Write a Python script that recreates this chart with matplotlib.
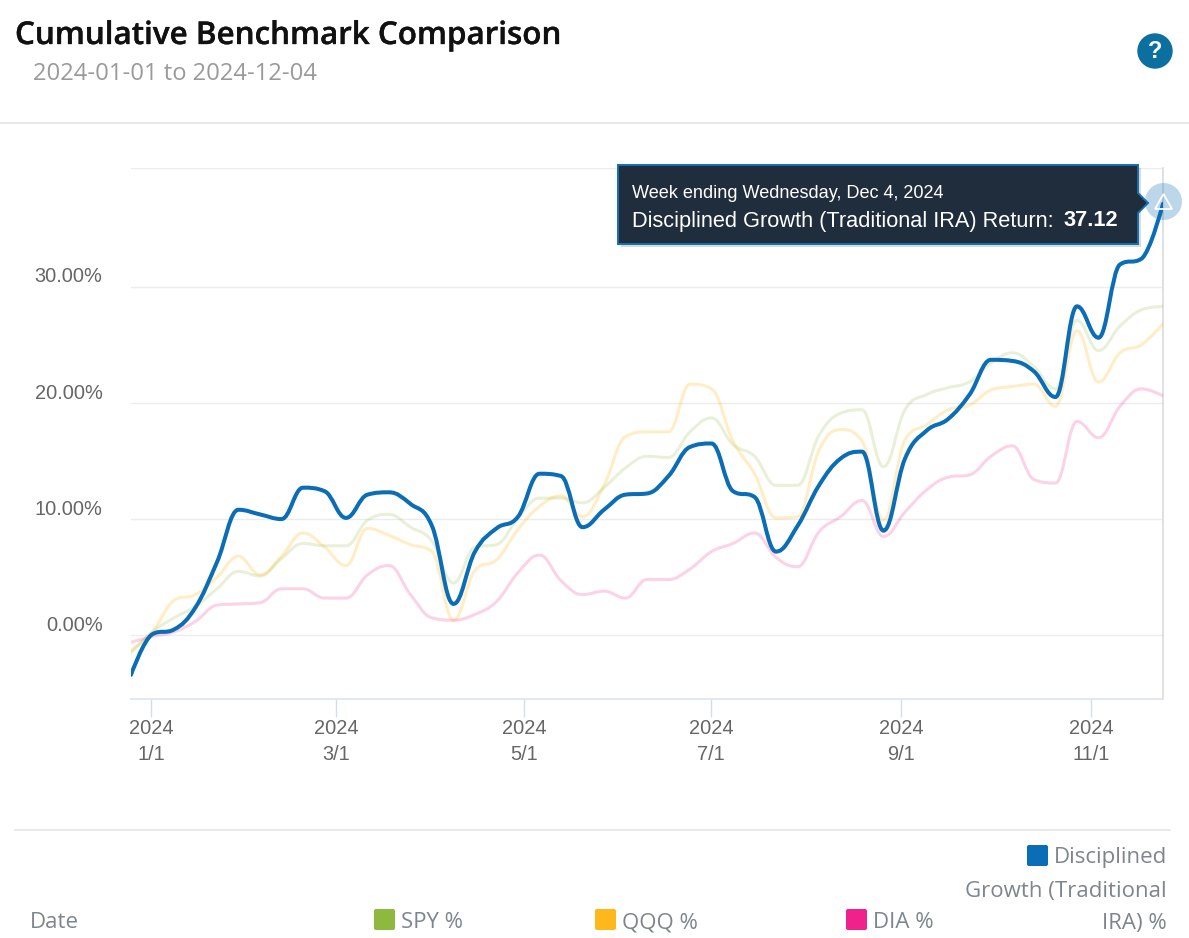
import matplotlib
matplotlib.use("Agg")
import matplotlib.pyplot as plt
import matplotlib.patheffects as pe
from matplotlib.path import Path
from matplotlib.patches import PathPatch, Rectangle, Circle, Polygon, FancyBboxPatch

plt.rcParams['font.family'] = ['Liberation Sans', 'DejaVu Sans']

# weekly readings, first to last week of the period
blue = [-3.4, 0.1, 0.5, 2.4, 6.3, 10.8, 10.4, 10.0, 12.7, 12.4, 10.1, 12.1, 12.3, 11.3, 9.4, 2.7, 7.2, 9.2,
        10.2, 13.9, 13.7, 9.3, 10.8, 12.1, 12.2, 13.7, 16.2, 16.5, 12.4, 11.9, 7.2, 9.4, 12.9, 15.2, 15.8, 9.0,
        15.2, 17.6, 18.6, 20.7, 23.7, 23.6, 22.7, 20.5, 28.3, 25.6, 31.9, 32.4, 37.12]
spy = [-1.5, 0.3, 1.5, 2.5, 4.0, 5.5, 5.1, 6.6, 7.9, 7.7, 7.7, 9.9, 10.4, 9.3, 8.1, 4.5, 7.6, 7.8,
       10.1, 11.8, 11.8, 11.4, 12.7, 14.4, 15.4, 15.3, 17.5, 18.7, 16.4, 15.4, 12.9, 12.9, 17.2, 19.1, 19.4, 14.5,
       19.4, 20.7, 21.3, 21.8, 23.4, 24.3, 23.1, 21.2, 27.1, 24.5, 26.6, 28.0, 28.3]
qqq = [-1.3, 0.3, 3.0, 3.5, 5.0, 6.8, 5.2, 6.8, 8.8, 7.6, 6.0, 9.2, 8.6, 7.8, 7.2, 1.3, 5.6, 6.5,
       9.1, 11.1, 12.0, 10.2, 12.9, 17.1, 17.5, 17.5, 21.6, 21.2, 16.7, 13.9, 10.1, 10.2, 15.9, 17.7, 16.7, 9.9,
       16.8, 18.1, 19.4, 19.8, 21.1, 21.4, 21.6, 19.7, 26.2, 21.8, 24.3, 25.0, 26.8]
dia = [-0.6, -0.1, 0.3, 1.2, 2.6, 2.7, 2.8, 4.0, 4.0, 3.2, 3.2, 5.2, 6.0, 3.5, 1.5, 1.3, 1.8, 2.9,
       5.4, 6.9, 4.7, 3.5, 3.8, 3.2, 4.8, 4.8, 5.7, 7.2, 7.9, 8.8, 6.7, 5.9, 8.9, 10.2, 11.6, 8.5,
       10.6, 12.5, 13.6, 13.8, 15.4, 16.3, 13.4, 13.1, 18.4, 17.0, 19.7, 21.2, 20.6]

y_ticks = [0, 10, 20, 30, 40.2]
y_labels = ["0.00%", "10.00%", "20.00%", "30.00%"]
x_tick_pos = [0.93, 9.53, 18.28, 26.98, 35.81, 44.65]
x_tick_labels = ["2024\n1/1", "2024\n3/1", "2024\n5/1", "2024\n7/1", "2024\n9/1", "2024\n11/1"]

BLUE = "#0a6db5"
GREEN = "#8fb83e"
ORANGE = "#ffb81c"
PINK = "#f0218a"
GREY = "#7d868c"


def spline_path(xs, ys):
    # same smoothing as a stock-chart spline: flat at local peaks and dips
    verts = [(xs[0], ys[0])]
    codes = [Path.MOVETO]
    n = len(xs)
    right = (xs[0], ys[0])
    for i in range(1, n):
        x, y = xs[i], ys[i]
        left = (x, y)
        next_right = (x, y)
        if i < n - 1:
            lx = (1.5 * x + xs[i - 1]) / 2.5
            ly = (1.5 * y + ys[i - 1]) / 2.5
            rx = (1.5 * x + xs[i + 1]) / 2.5
            ry = (1.5 * y + ys[i + 1]) / 2.5
            corr = (ry - ly) * (rx - x) / (rx - lx) + y - ry
            ly += corr
            ry += corr
            if ly > ys[i - 1] and ly > y:
                ly = max(ys[i - 1], y)
                ry = 2 * y - ly
            elif ly < ys[i - 1] and ly < y:
                ly = min(ys[i - 1], y)
                ry = 2 * y - ly
            if ry > ys[i + 1] and ry > y:
                ry = max(ys[i + 1], y)
                ly = 2 * y - ry
            elif ry < ys[i + 1] and ry < y:
                ry = min(ys[i + 1], y)
                ly = 2 * y - ry
            left = (lx, ly)
            next_right = (rx, ry)
        verts += [right, left, (x, y)]
        codes += [Path.CURVE4, Path.CURVE4, Path.CURVE4]
        right = next_right
    return Path(verts, codes)


W, H = 1189, 938
fig = plt.figure(figsize=(W / 100, H / 100), dpi=100, facecolor="white")

# plot area in pixels: x 131-1163, y 168-699
ax = fig.add_axes([131 / W, 1 - 699 / H, 1032 / W, 531 / H])
ax.set_xlim(0, 48)
ax.set_ylim(-5.48, 40.2)
ax.patch.set_alpha(0)
for s in ax.spines.values():
    s.set_visible(False)
ax.spines['bottom'].set_visible(True)
ax.spines['bottom'].set_color("#dbe3f1")
ax.spines['bottom'].set_linewidth(1.2)

ax.set_yticks(y_ticks)
ax.tick_params(axis='y', length=0, labelleft=False)
ax.grid(axis='y', color="#ececec", lw=1.0)
ax.set_axisbelow(True)
for v, lab in zip(y_ticks, y_labels):
    ax.annotate(lab, (0, v), xytext=(-20.5, 7), textcoords="offset points", ha="right", va="center",
                fontsize=14.4, color="#666666", annotation_clip=False)

ax.set_xticks(x_tick_pos)
ax.set_xticklabels(x_tick_labels, fontsize=14.4, color="#666666", linespacing=1.45)
ax.tick_params(axis='x', length=12.6, width=1.0, color="#d3ddef", pad=2)

weeks = list(range(len(blue)))
for vals, col, alpha, lw in [(spy, GREEN, 0.2, 2.2), (qqq, ORANGE, 0.25, 2.2), (dia, PINK, 0.2, 2.2),
                             (blue, BLUE, 1.0, 2.9)]:
    ax.add_patch(PathPatch(spline_path(weeks, vals), fill=False, edgecolor=col, alpha=alpha, lw=lw,
                           capstyle="round", joinstyle="round", zorder=3))

# crosshair on the hovered week
ax.axvline(weeks[-1], color="#dcdee0", lw=1.3, zorder=2, clip_on=False)

# page furniture drawn in pixel coordinates
pg = fig.add_axes([0, 0, 1, 1])
pg.set_xlim(0, W)
pg.set_ylim(H, 0)
pg.axis("off")
pg.patch.set_alpha(0)

pg.text(15, 36, "Cumulative Benchmark Comparison", fontsize=22.6, family=["Open Sans"], weight=600,
        color="#111111", va="center", path_effects=[pe.withStroke(linewidth=0.25, foreground="#111111")])
pg.text(33, 74, "2024-01-01 to 2024-12-04", fontsize=17.1, family=["Open Sans"], color="#9a9a9a", va="center")
pg.add_patch(Circle((1155, 51), 17, color="#0b6f9f"))
pg.text(1155, 51, "?", fontsize=17, weight="bold", color="white", ha="center", va="center")

pg.plot([0, W], [123, 123], color="#e4e4e4", lw=1.2)
pg.plot([15, 1170], [830, 830], color="#e4e4e4", lw=1.2)

# highlighted point
pg.add_patch(Circle((1163.5, 201.5), 18.5, color=BLUE, alpha=0.27, lw=0, zorder=4))
pg.add_patch(Polygon([(1163.5, 194), (1172, 209), (1155, 209)], closed=True, facecolor="none", edgecolor="white",
                     lw=1.3, zorder=5))

# tooltip
pg.add_patch(Rectangle((621, 168), 520, 79, color="#000000", alpha=0.15, lw=0, zorder=5))
pg.add_patch(Polygon([(618, 165), (1138, 165), (1138, 193), (1148, 203), (1138, 213), (1138, 244), (618, 244)],
                     closed=True, facecolor="#1f2d3c", edgecolor="#1270b0", lw=1.4, zorder=6))
pg.text(632, 194, "Week ending Wednesday, Dec 4, 2024", fontsize=13.1, color="white", va="center", zorder=7)
pg.text(632, 221, "Disciplined Growth (Traditional IRA) Return:", fontsize=15.7, color="white", va="center",
        zorder=7)
pg.text(1118, 221, "37.12", fontsize=15.7, weight="bold", color="white", va="center", ha="right", zorder=7)

# legend row
for x0, y0, col in [(374, 909, GREEN), (595, 909, ORANGE), (846, 909, PINK), (1027, 845, BLUE)]:
    pg.add_patch(FancyBboxPatch((x0 + 2, y0 + 2), 17, 17, boxstyle="round,pad=2", facecolor=col, edgecolor="none"))
leg = dict(fontsize=16, color=GREY, va="center", family=["Open Sans"])
pg.text(30, 923, "Date", **leg)
pg.text(401, 923, "SPY %", **leg)
pg.text(622, 923, "QQQ %", **leg)
pg.text(873, 923, "DIA %", **leg)
pg.text(1167, 858, "Disciplined", ha="right", **leg)
pg.text(1167, 891, "Growth (Traditional", ha="right", **leg)
pg.text(1167, 923, "IRA) %", ha="right", **leg)

fig.savefig("out.png", dpi=100)
